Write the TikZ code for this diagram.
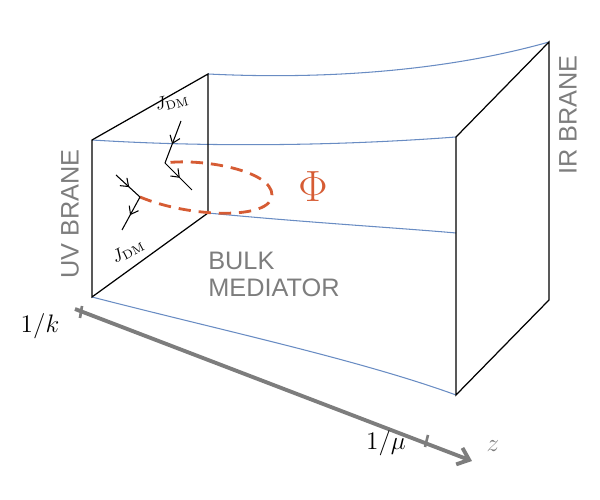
\documentclass[tikz,border=0pt]{standalone}
\usepackage{fontspec}
\newfontfamily\labelfont{Liberation Sans}
\usetikzlibrary{decorations.markings, arrows.meta}
\definecolor{phiorange}{RGB}{214,92,52}
\definecolor{sheetblue}{RGB}{105,140,195}
\definecolor{axisgray}{RGB}{125,125,125}
\tikzset{
  brane/.style={black, line width=0.7pt},
  sheet/.style={sheetblue, line width=0.6pt},
  fermion/.style={black, line width=0.6pt, postaction={decorate},
    decoration={markings, mark=at position 0.55 with {\arrow{Straight Barb[length=4pt,width=6pt]}}}},
  mediator/.style={phiorange, line width=1.6pt, dash pattern=on 7pt off 4.5pt},
  graytext/.style={axisgray, font=\labelfont\Large, align=left}
}
\begin{document}
\begin{tikzpicture}[x=0.02cm, y=-0.02cm]
    \useasboundingbox (0,0) rectangle (600,500);

    % Corners of the branes
    \coordinate (uvTL) at (92,140);
    \coordinate (uvTR) at (208,74);
    \coordinate (uvBR) at (208,213);
    \coordinate (uvBL) at (92,297);
    \coordinate (irTL) at (456,137);
    \coordinate (irTR) at (549,42);
    \coordinate (irBR) at (549,300);
    \coordinate (irBL) at (456,395);

    % Bulk sheets
    \draw[sheet] (uvTR) .. controls (330,80) and (450,70) .. (irTR);
    \draw[sheet] (uvTL) .. controls (220,148) and (350,145) .. (irTL);
    \draw[sheet] (uvBR) .. controls (300,222) and (400,228) .. (456,233);
    \draw[sheet] (uvBL) .. controls (220,330) and (360,360) .. (irBL);

    % Branes
    \draw[brane] (uvTL) -- (uvTR) -- (uvBR) -- (uvBL) -- cycle;
    \draw[brane] (irTL) -- (irTR) -- (irBR) -- (irBL) -- cycle;

    % Mediator loop
    \coordinate (v1) at (165,163);
    \coordinate (v2) at (140,197);
    \draw[mediator] (v2) .. controls (190,218) and (272,220) .. (272,195)
        .. controls (272,170) and (200,158) .. (v1);

    % Fermion legs
    \coordinate (f1) at (181,121);
    \coordinate (f2) at (192,190);
    \coordinate (f3) at (116,175);
    \coordinate (f4) at (122,230);
    \draw[fermion] (f1) -- (v1);
    \draw[fermion] (v1) -- (f2);
    \draw[fermion] (f3) -- (v2);
    \draw[fermion] (v2) -- (f4);
    \node[rotate=15] (jtop) at (172,102) {$J_{\mathrm{DM}}$};
    \node[rotate=28] (jbot) at (128,251) {$J_{\mathrm{DM}}$};

    % Labels
    \node[phiorange, font=\fontsize{32}{34}\selectfont] (phi) at (313,187) {$\Phi$};
    \node[graytext, anchor=north west, inner sep=0pt] (bulk) at (208,252) {BULK\\[-3pt]MEDIATOR};
    \node[graytext, rotate=90] (uv) at (70,214) {UV BRANE};
    \node[graytext, rotate=90] (ir) at (568,115) {IR BRANE};

    % Axis
    \coordinate (zstart) at (75,309);
    \coordinate (zend) at (472,461);
    \draw[axisgray, line width=2.2pt, -{Straight Barb[length=6pt,width=10pt]}] (zstart) -- (zend);
    \draw[axisgray, line width=1.5pt] (82,306) -- (80,318);
    \draw[axisgray, line width=1.5pt] (428,435) -- (425,447);
    \node[font=\Large] (k) at (40,326) {$1/k$};
    \node[font=\Large] (mu) at (386,443) {$1/\mu$};
    \node[axisgray, font=\Large] (z) at (493,446) {$z$};
\end{tikzpicture}
\end{document}
